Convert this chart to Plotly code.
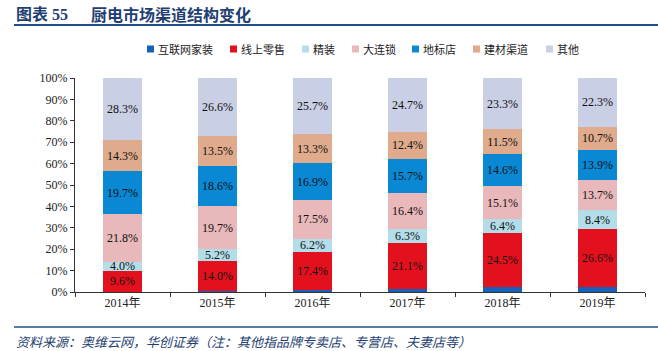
import plotly.graph_objects as go

years = ["2014年", "2015年", "2016年", "2017年", "2018年", "2019年"]
series_names = ["互联网家装", "线上零售", "精装", "大连锁", "地标店", "建材渠道", "其他"]
internet_home = [0.1, 0.4, 0.8, 1.6, 2.3, 2.4]
online_retail = [9.6, 14.0, 17.4, 21.1, 24.5, 26.6]
fine_decor = [4.0, 5.2, 6.2, 6.3, 6.4, 8.4]
big_chain = [21.8, 19.7, 17.5, 16.4, 15.1, 13.7]
landmark = [19.7, 18.6, 16.9, 15.7, 14.6, 13.9]
building = [14.3, 13.5, 13.3, 12.4, 11.5, 10.7]
others = [28.3, 26.6, 25.7, 24.7, 23.3, 22.3]
colors = ["#1660B8", "#E3111D", "#B3DDE9", "#E8B8BA", "#0A88D3", "#DFAB8C", "#C9CFE4"]
show_label = [False, True, True, True, True, True, True]
values = [internet_home, online_retail, fine_decor, big_chain, landmark, building, others]
legend_x = [147, 230, 302, 352, 412, 473, 546]

W, H = 658, 351
L, R, T, B = 75, 13, 78, 59
pw, ph = W - L - R, H - T - B

def px(x):
    return (x - L) / pw

def py(y):
    return (H - B - y) / ph

serif = "Liberation Serif, Times New Roman, Noto Sans CJK SC, serif"
cjk = "Noto Sans CJK SC, sans-serif"

fig = go.Figure()
for name, vals, c, lab in zip(series_names, values, colors, show_label):
    fig.add_trace(go.Bar(
        x=years, y=vals, name=name, marker=dict(color=c, line=dict(width=0)),
        text=[f"{v:.1f}%" for v in vals] if lab else None,
        textposition="inside" if lab else "none", insidetextanchor="middle",
        constraintext="none",
        textfont=dict(family=serif, size=12, color="#111111"),
        hoverinfo="skip", showlegend=False,
    ))

fig.update_layout(
    barmode="stack", barnorm="percent", bargap=0.58,
    width=W, height=H, margin=dict(l=L, r=R, t=T, b=B, autoexpand=False),
    paper_bgcolor="white", plot_bgcolor="white",
    showlegend=False,
    xaxis=dict(showline=True, linecolor="#333", linewidth=1, ticks="outside", tickson="boundaries",
               ticklen=4, tickcolor="#333", tickfont=dict(family=serif, size=12, color="#222")),
    yaxis=dict(range=[0, 100], dtick=10, ticksuffix="%", showline=True, linecolor="#333", linewidth=1,
               ticks="outside", ticklen=4, tickcolor="#333", showgrid=False, zeroline=False,
               tickfont=dict(family=serif, size=12, color="#222")),
)

# custom legend
for name, c, lx in zip(series_names, colors, legend_x):
    fig.add_shape(type="rect", xref="paper", yref="paper", x0=px(lx), x1=px(lx + 7),
                  y0=py(52.5), y1=py(45.5), fillcolor=c, line=dict(width=0))
    fig.add_annotation(text=name, xref="paper", yref="paper", x=px(lx + 8.5), y=py(49),
                       xanchor="left", yanchor="middle", showarrow=False,
                       font=dict(family=cjk, size=11, color="#222"))

fig.add_annotation(text="<b>图表 55</b>", xref="paper", yref="paper",
                   x=px(14), y=py(14), xanchor="left", yanchor="middle", showarrow=False,
                   font=dict(family="Liberation Serif, Noto Sans CJK SC", size=16, color="#1F3F73"))
fig.add_annotation(text="<b>厨电市场渠道结构变化</b>", xref="paper", yref="paper",
                   x=px(89), y=py(14), xanchor="left", yanchor="middle", showarrow=False,
                   font=dict(family=cjk, size=16, color="#1F3F73"))
fig.add_annotation(text="<i>资料来源：奥维云网，华创证券（注：其他指品牌专卖店、专营店、夫妻店等）</i>",
                   xref="paper", yref="paper", x=px(14), y=py(341), xanchor="left", yanchor="middle",
                   showarrow=False, font=dict(family=cjk, size=13, color="#1F3F73"))
fig.add_shape(type="line", xref="paper", yref="paper", x0=px(14), x1=px(658), y0=py(25), y1=py(25),
              line=dict(color="#1F4E8C", width=2))
fig.add_shape(type="line", xref="paper", yref="paper", x0=px(14), x1=px(658), y0=py(327), y1=py(327),
              line=dict(color="#1F4E8C", width=1.5))

fig.write_html("out.html")
